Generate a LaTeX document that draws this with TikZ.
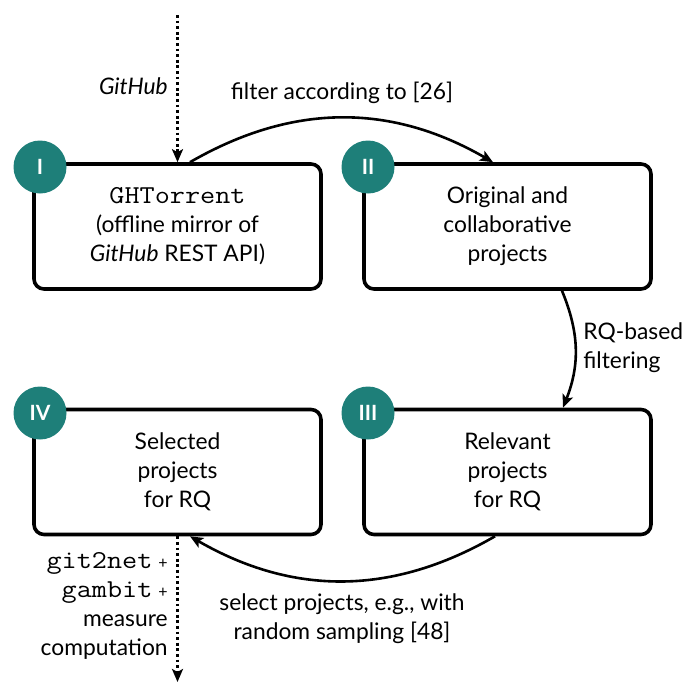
\documentclass[tikz,border=0pt]{standalone}
\usepackage{fontspec}
\setmainfont{Lato}
\setmonofont[Scale=1.13,FakeStretch=1.14]{Latin Modern Mono}
\usetikzlibrary{arrows.meta}
\definecolor{tealbadge}{HTML}{1E7F79}
\begin{document}
\begin{tikzpicture}[x=0.5pt,y=-0.5pt,
  font=\fontsize{11.4}{14.5}\selectfont,
  box/.style={draw, line width=1.8pt, rounded corners=5pt, minimum width=143.5pt,
    minimum height=62.5pt, align=center, inner sep=0pt},
  badge/.style={circle, fill=tealbadge, text=white, minimum size=26.5pt, inner sep=0pt,
    font=\fontsize{10.5}{12}\selectfont\bfseries},
  conn/.style={line width=1.3pt, -{Stealth[length=6.5pt,width=5.5pt,inset=1.5pt]}},
  dotted arrow/.style={line width=1.4pt, dash pattern=on 1.4pt off 1.4pt,
    -{Stealth[length=6.5pt,width=5.5pt,inset=1.5pt]}},
  lbl/.style={inner sep=0pt, align=center},
]
\useasboundingbox (0,0) rectangle (681,685);

\node[box] (b1) at (177.5,226.5) {\texttt{GHTorrent}\\(offline mirror of\\\textit{GitHub} REST API)};
\node[box] (b2) at (507.5,226.5) {Original and\\collaborative\\projects};
\node[box] (b3) at (507.5,472) {Relevant\\projects\\for RQ};
\node[box] (b4) at (177.5,472) {Selected\\projects\\for RQ};

\node[badge] (n1) at (40,167) {I};
\node[badge] (n2) at (368,167) {II};
\node[badge] (n3) at (368,413) {III};
\node[badge] (n4) at (40,413) {IV};

\coordinate (src) at (177.5,15);
\coordinate (sink) at (177.5,682);

\draw[dotted arrow] (src) -- (b1.north);
\draw[dotted arrow] (b4.south) -- (sink);

\node[lbl, anchor=east] (ghl) at (168,86) {\textit{GitHub}};
\node[lbl, anchor=east, align=right] (outl) at (168,606)
  {\texttt{git2net} {\footnotesize+}\\[0.4pt]\texttt{gambit} {\footnotesize+}\\measure\\computation};

\draw[conn] ([xshift=6.25pt]b1.north) to[bend left=30] ([xshift=-7.25pt]b2.north);
\draw[conn] ([xshift=27.25pt]b2.south) to[bend left=22] ([xshift=27.75pt]b3.north);
\draw[conn] ([xshift=-6.25pt]b3.south) to[bend left=30] ([xshift=6.25pt]b4.south);

\node[lbl] (l1) at (342,93) {filter according to [26]};
\node[lbl, anchor=west, align=left] (l2) at (583,348) {RQ-based\\filtering};
\node[lbl] (l3) at (342,619) {select projects, e.g., with\\random sampling [48]};
\end{tikzpicture}
\end{document}
